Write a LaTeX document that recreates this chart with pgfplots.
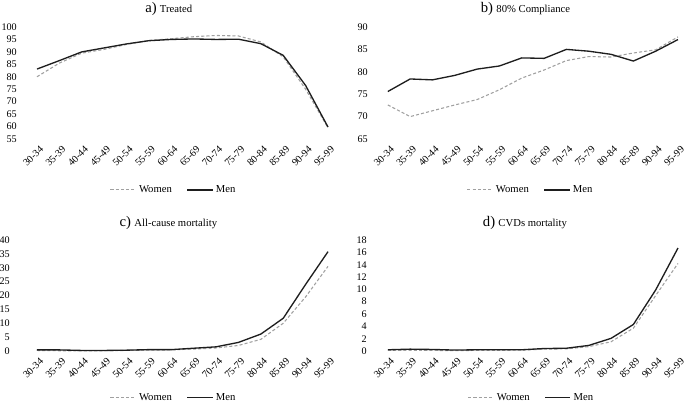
\documentclass[border=0pt]{standalone}
\usepackage{fontspec}
\setmainfont{Liberation Serif}
\usepackage{pgfplots}
\pgfplotsset{compat=1.18}
\definecolor{wgray}{RGB}{160,160,160}
\definecolor{mblack}{RGB}{30,30,30}
\pgfplotsset{
  panel/.style={
    scale only axis,
    anchor=north west,
    axis line style={draw=none},
    major tick length=0pt,
    xmin=-0.5,
    xtick={0,...,13},
    xticklabels={30-34,35-39,40-44,45-49,50-54,55-59,60-64,65-69,70-74,75-79,80-84,85-89,90-94,95-99},
    xticklabel style={rotate=45, anchor=east, inner sep=0pt, yshift=-7pt, xshift=-2pt, font=\fontsize{7.6}{8}\selectfont},
    yticklabel style={anchor=east, inner sep=0pt, font=\fontsize{7.6}{8}\selectfont},
    /pgf/number format/assume math mode=true,
    legend columns=2,
    legend style={draw=none, fill=none, anchor=center, font=\fontsize{8}{9}\selectfont,
      /tikz/every even column/.append style={column sep=9pt}},
    legend image code/.code={\draw[#1] (0pt,0pt) -- (19pt,0pt);},
    every axis title/.style={anchor=base, yshift=10.5pt},
    clip=false,
  },
  women/.style={color=wgray, line width=0.8pt, dash pattern=on 2.3pt off 1.6pt},
  men/.style={color=mblack, line width=1pt},
}
\begin{document}
\begin{tikzpicture}
\useasboundingbox (0,0) rectangle (513.75pt,-307.5pt);
% a) Treated
\begin{axis}[panel, at={(19.35pt,-20.25pt)}, width=235.05pt, height=84pt,
  xmax=13.5, ymin=55, ymax=100, ytick={55,60,...,100},
  yticklabel style={xshift=-6.6pt},
  title={{\fontsize{11}{12}\selectfont a)} {\fontsize{8}{9}\selectfont Treated}},
  title style={at={(0.456,1)}},
  legend style={at={(0.473,-0.455)}}]
\addplot[women] coordinates {(0,80.0) (1,85.5) (2,89.5) (3,91.0) (4,93.0) (5,94.6) (6,95.3) (7,96.1) (8,96.6) (9,96.4) (10,94.0) (11,88.0) (12,75.0) (13,59.5)};
\addlegendentry{Women}
\addplot[men] coordinates {(0,83.1) (1,86.5) (2,90.0) (3,91.6) (4,93.2) (5,94.5) (6,95.0) (7,95.2) (8,95.0) (9,95.1) (10,93.3) (11,88.6) (12,76.5) (13,59.8)};
\addlegendentry{Men}
\end{axis}
% b) 80% Compliance
\begin{axis}[panel, at={(282.5pt,-20.25pt)}, width=226pt, height=84pt,
  xmax=13, ymin=65, ymax=90, ytick={65,70,...,90},
  yticklabel style={xshift=-6.5pt},
  title={{\fontsize{11}{12}\selectfont b)} {\fontsize{8}{9}\selectfont 80\% Compliance}},
  title style={at={(0.494,1)}},
  legend style={at={(0.512,-0.455)}}]
\addplot[women] coordinates {(0,72.6) (1,70.0) (2,71.3) (3,72.6) (4,73.8) (5,76.0) (6,78.6) (7,80.4) (8,82.5) (9,83.4) (10,83.3) (11,84.2) (12,84.9) (13,87.8)};
\addlegendentry{Women}
\addplot[men] coordinates {(0,75.6) (1,78.4) (2,78.2) (3,79.2) (4,80.6) (5,81.3) (6,83.1) (7,83.0) (8,85.0) (9,84.6) (10,83.9) (11,82.4) (12,84.6) (13,87.2)};
\addlegendentry{Men}
\end{axis}
% c) All-cause mortality
\begin{axis}[panel, at={(19.35pt,-180pt)}, width=235.05pt, height=83.25pt,
  xmax=13.5, ymin=0, ymax=40, ytick={0,5,...,40},
  yticklabel style={xshift=-11.9pt},
  title={{\fontsize{11}{12}\selectfont c)} {\fontsize{8}{9}\selectfont All-cause mortality}},
  title style={at={(0.455,1)}},
  legend style={at={(0.473,-0.42)}}]
\addplot[women] coordinates {(0,0.2) (1,0.1) (2,0.1) (3,0.1) (4,0.2) (5,0.3) (6,0.4) (7,0.7) (8,1.1) (9,2.0) (10,4.2) (11,10.0) (12,19.5) (13,30.5)};
\addlegendentry{Women}
\addplot[men] coordinates {(0,0.4) (1,0.4) (2,0.2) (3,0.2) (4,0.3) (5,0.5) (6,0.5) (7,1.0) (8,1.5) (9,3.1) (10,6.1) (11,11.8) (12,24.0) (13,35.8)};
\addlegendentry{Men}
\end{axis}
% d) CVDs mortality
\begin{axis}[panel, at={(282.5pt,-180pt)}, width=226pt, height=83.25pt,
  xmax=13, ymin=0, ymax=18, ytick={0,2,...,18},
  yticklabel style={xshift=-7.2pt},
  title={{\fontsize{11}{12}\selectfont d)} {\fontsize{8}{9}\selectfont CVDs mortality}},
  title style={at={(0.492,1)}},
  legend style={at={(0.515,-0.42)}}]
\addplot[women] coordinates {(0,0.1) (1,0.1) (2,0.1) (3,0.05) (4,0.1) (5,0.1) (6,0.15) (7,0.3) (8,0.35) (9,0.7) (10,1.5) (11,3.7) (12,9.0) (13,14.2)};
\addlegendentry{Women}
\addplot[men] coordinates {(0,0.2) (1,0.3) (2,0.25) (3,0.15) (4,0.2) (5,0.2) (6,0.2) (7,0.4) (8,0.45) (9,0.9) (10,2.05) (11,4.3) (12,9.9) (13,16.7)};
\addlegendentry{Men}
\end{axis}
\end{tikzpicture}
\end{document}
